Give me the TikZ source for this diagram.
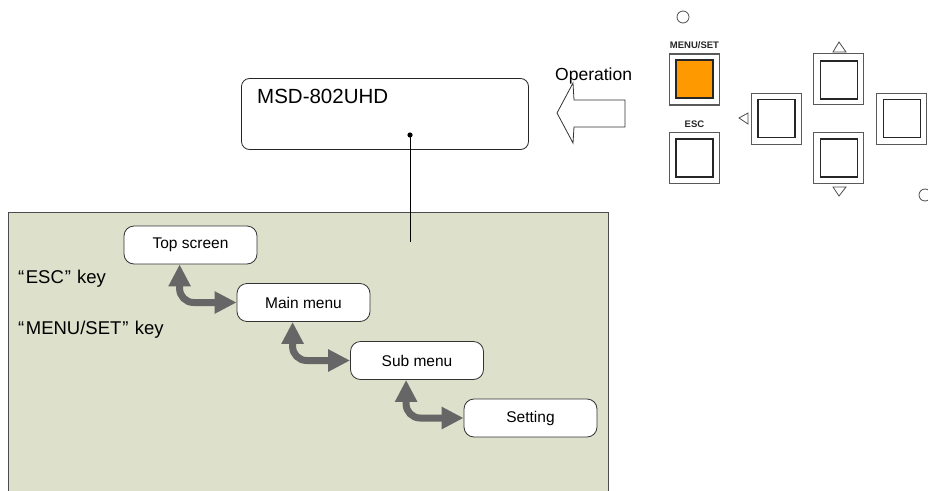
\documentclass[tikz,border=0pt]{standalone}
\usepackage{fontspec}
\setmainfont{Liberation Sans}
\usetikzlibrary{arrows.meta,calc}
\definecolor{panelgreen}{RGB}{221,224,203}
\definecolor{flowgray}{RGB}{102,102,102}
\definecolor{btnorange}{RGB}{255,153,0}
\begin{document}
\begin{tikzpicture}[x=1pt,y=-1pt,
  menubox/.style={draw=black!80, line width=0.8pt, fill=white, rounded corners=10pt,
    minimum width=133pt, minimum height=38pt, inner sep=0pt, font=\fontsize{15.5}{18}\selectfont},
  flowarrow/.style={draw=flowgray, line width=7pt, rounded corners=14pt,
    {Triangle[length=22pt,width=21pt]}-{Triangle[length=22pt,width=21pt]}},
  keylabel/.style={anchor=base west, inner sep=0pt, font=\fontsize{18.5}{22}\selectfont},
  btnouter/.style={draw=black!65, line width=1.8pt, fill=white, inner sep=0pt,
    minimum width=50pt, minimum height=51pt},
  btninner/.style={draw=black!85, line width=1.2pt, fill=white, inner sep=0pt,
    minimum width=37pt, minimum height=38pt},
  btnlabel/.style={inner sep=0pt, font=\fontsize{9.5}{11}\selectfont\bfseries, text=black!85},
  marker/.style={draw=black!70, line width=0.8pt, fill=white},
  ]
\useasboundingbox (0,0) rectangle (928,490);

% green panel
\fill[panelgreen] (8,212) rectangle (608,500);
\draw[black!70, line width=0.8pt] (8,500) -- (8,212) -- (608,212) -- (608,500);

% display box
\node[draw=black!85, line width=0.8pt, rounded corners=8pt, minimum width=287pt,
      minimum height=71pt, inner sep=0pt, fill=white] (msd) at (385,114) {};
\node[anchor=base west, inner sep=0pt, font=\fontsize{20.5}{24}\selectfont] (msdlabel) at (257,103) {MSD-802UHD};
\coordinate (tap) at (410,135);
\coordinate (panelend) at (410,242);
\draw[black, line width=0.9pt] (tap) -- (panelend);
\fill (tap) circle (2.6pt);

% operation arrow
\draw[black!80, line width=0.8pt, fill=white]
  (557,113) -- (573,83) -- (574,100) -- (625,100) -- (625,127) -- (574,127) -- (573,143) -- cycle;
\node[anchor=base west, inner sep=0pt, font=\fontsize{17.5}{20}\selectfont] (oplabel) at (555,80) {Operation};

% menu nodes
\node[menubox] (ts) at (190.5,245) {Top screen};
\node[menubox] (mm) at (303.5,302.5) {Main menu};
\node[menubox] (sm) at (417,360.5) {Sub menu};
\node[menubox] (st) at (530.5,418) {Setting};

\draw[flowarrow] ($(ts.south west)+(56,0)$) |- (mm.west);
\draw[flowarrow] ($(mm.south west)+(56,0)$) |- (sm.west);
\draw[flowarrow] ($(sm.south west)+(56,0)$) |- (st.west);

% key labels
\node[keylabel] (esckey) at (18,283) {“\kern1.5pt ESC\kern1pt”\kern1pt\ key};
\node[keylabel] (menukey) at (18,334) {“\kern1.5pt MENU/SET\kern1pt”\kern1pt\ key};

% buttons panel
\draw[marker] (683,17) circle (6pt);
\draw[marker] (925,195) circle (6pt);

\node[btnlabel] (menusetlbl) at (694.5,45) {MENU/SET};
\node[btnouter] (bmenu) at (694.5,79.5) {};
\node[btninner, fill=btnorange] (bmenuin) at (694.5,79) {};

\node[btnlabel] (esclbl) at (694.5,124) {ESC};
\node[btnouter] (besc) at (694.5,158) {};
\node[btninner] (bescin) at (694.5,158) {};

\node[btnouter] (bleft) at (776.5,119) {};
\node[btninner] (bleftin) at (776.5,118.5) {};
\node[btnouter] (bup) at (838.5,79) {};
\node[btninner] (bupin) at (839,80) {};
\node[btnouter] (bdown) at (838.5,158) {};
\node[btninner] (bdownin) at (839,158) {};
\node[btnouter] (bright) at (901.5,119) {};
\node[btninner] (brightin) at (902,118.5) {};

\draw[marker] (739,118) -- (748,113) -- (748,124) -- cycle;
\draw[marker] (839,42) -- (833,52) -- (846,52) -- cycle;
\draw[marker] (833,187) -- (846,187) -- (839,196) -- cycle;
\end{tikzpicture}
\end{document}
